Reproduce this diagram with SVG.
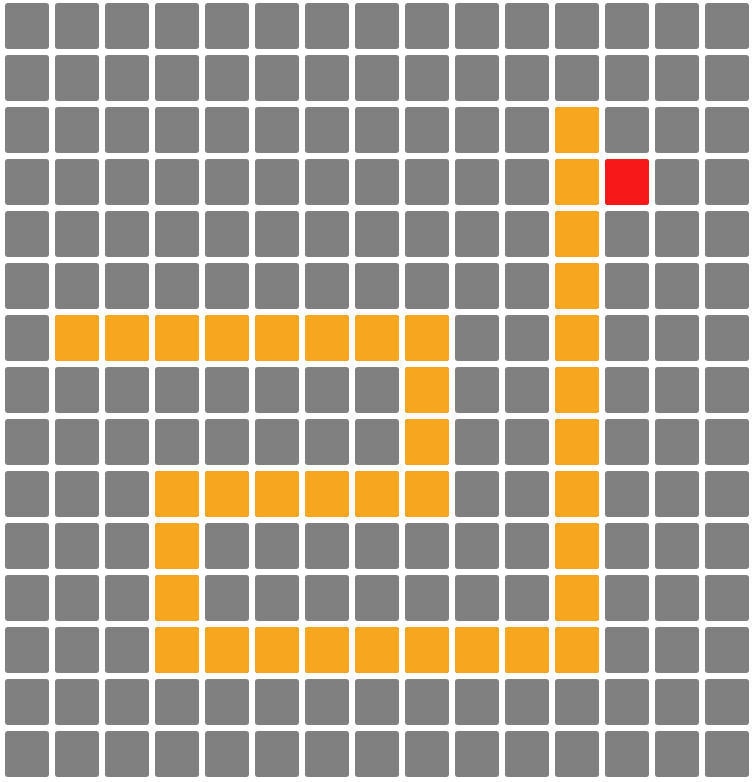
<svg xmlns="http://www.w3.org/2000/svg" width="756" height="782" viewBox="0 0 756 782">
<defs>
<style>
rect.c{width:44px;height:46px}
.g{fill:#808080}
.o{fill:#f6a61f}
.r{fill:#f71919}
</style>
<pattern id="grid" x="5" y="3" width="50" height="52" patternUnits="userSpaceOnUse">
<rect x="0" y="0" width="44" height="46" rx="3" ry="3" fill="#808080"/>
</pattern>
</defs>
<rect width="756" height="782" fill="#ffffff"/>
<rect id="grid-cells" x="5" y="3" width="750" height="780" fill="url(#grid)"/>
<g id="path">
<rect x="555" y="107" width="44" height="46" rx="3" class="o"/>
<rect x="555" y="159" width="44" height="46" rx="3" class="o"/>
<rect x="555" y="211" width="44" height="46" rx="3" class="o"/>
<rect x="555" y="263" width="44" height="46" rx="3" class="o"/>
<rect x="555" y="315" width="44" height="46" rx="3" class="o"/>
<rect x="555" y="367" width="44" height="46" rx="3" class="o"/>
<rect x="555" y="419" width="44" height="46" rx="3" class="o"/>
<rect x="555" y="471" width="44" height="46" rx="3" class="o"/>
<rect x="555" y="523" width="44" height="46" rx="3" class="o"/>
<rect x="555" y="575" width="44" height="46" rx="3" class="o"/>
<rect x="555" y="627" width="44" height="46" rx="3" class="o"/>
<rect x="55" y="315" width="44" height="46" rx="3" class="o"/>
<rect x="105" y="315" width="44" height="46" rx="3" class="o"/>
<rect x="155" y="315" width="44" height="46" rx="3" class="o"/>
<rect x="205" y="315" width="44" height="46" rx="3" class="o"/>
<rect x="255" y="315" width="44" height="46" rx="3" class="o"/>
<rect x="305" y="315" width="44" height="46" rx="3" class="o"/>
<rect x="355" y="315" width="44" height="46" rx="3" class="o"/>
<rect x="405" y="315" width="44" height="46" rx="3" class="o"/>
<rect x="405" y="367" width="44" height="46" rx="3" class="o"/>
<rect x="405" y="419" width="44" height="46" rx="3" class="o"/>
<rect x="405" y="471" width="44" height="46" rx="3" class="o"/>
<rect x="155" y="471" width="44" height="46" rx="3" class="o"/>
<rect x="205" y="471" width="44" height="46" rx="3" class="o"/>
<rect x="255" y="471" width="44" height="46" rx="3" class="o"/>
<rect x="305" y="471" width="44" height="46" rx="3" class="o"/>
<rect x="355" y="471" width="44" height="46" rx="3" class="o"/>
<rect x="155" y="523" width="44" height="46" rx="3" class="o"/>
<rect x="155" y="575" width="44" height="46" rx="3" class="o"/>
<rect x="155" y="627" width="44" height="46" rx="3" class="o"/>
<rect x="205" y="627" width="44" height="46" rx="3" class="o"/>
<rect x="255" y="627" width="44" height="46" rx="3" class="o"/>
<rect x="305" y="627" width="44" height="46" rx="3" class="o"/>
<rect x="355" y="627" width="44" height="46" rx="3" class="o"/>
<rect x="405" y="627" width="44" height="46" rx="3" class="o"/>
<rect x="455" y="627" width="44" height="46" rx="3" class="o"/>
<rect x="505" y="627" width="44" height="46" rx="3" class="o"/>
</g>
<g id="target">
<rect x="605" y="159" width="44" height="46" rx="3" class="r"/>
</g>
</svg>
